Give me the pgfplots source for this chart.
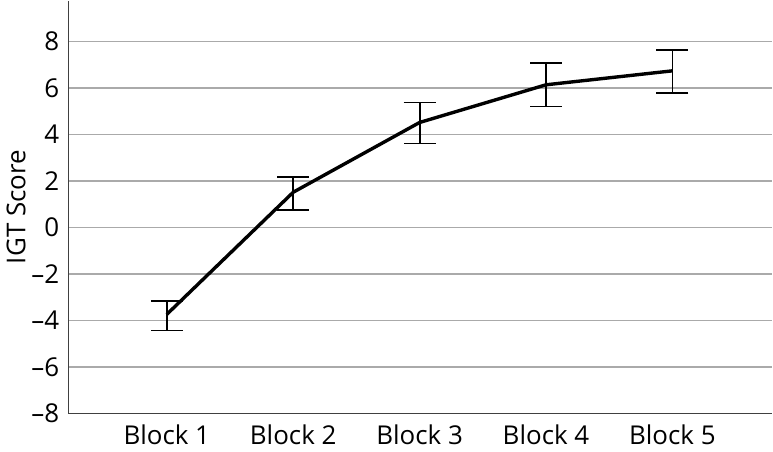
\documentclass[border=0pt]{standalone}
\usepackage{pgfplots}
\pgfplotsset{compat=1.18}
\usepackage{fontspec}
\setmainfont{Open Sans}
\definecolor{gridgray}{RGB}{170,170,170}

\begin{document}
\begin{tikzpicture}
\begin{axis}[
  scale only axis,
  width=353pt, height=207pt,
  xmin=0.22, xmax=5.79,
  ymin=-8, ymax=9.75,
  axis x line*=bottom, axis y line*=left,
  axis line style={black!75, line width=0.6pt},
  xtick={1,2,3,4,5},
  xticklabels={Block 1,Block 2,Block 3,Block 4,Block 5},
  ytick={-8,-6,-4,-2,0,2,4,6,8},
  yticklabels={–8,–6,–4,–2,0,2,4,6,8},
  major tick length=0pt,
  ymajorgrids, grid style={gridgray, line width=0.75pt},
  tick label style={font=\fontsize{13}{15}\selectfont},
  yticklabel style={xshift=-1pt},
  xticklabel style={yshift=-2pt},
  ylabel={IGT Score},
  label style={font=\fontsize{13}{15}\selectfont},
  ylabel style={yshift=-4pt},
  clip=false,
]
\addplot[black, line width=1.7pt, no marks,
  error bars/.cd, y dir=both, y explicit,
  error bar style={line width=0.9pt, black},
  error mark options={rotate=90, mark size=8pt, line width=0.9pt}]
  coordinates {
  (1,-3.74) += (0,0.57) -= (0,0.69)
  (2,1.51) += (0,0.66) -= (0,0.75)
  (3,4.51) += (0,0.86) -= (0,0.90)
  (4,6.13) += (0,0.92) -= (0,0.93)
  (5,6.73) += (0,0.89) -= (0,0.94)
};
\end{axis}
\end{tikzpicture}
\end{document}
